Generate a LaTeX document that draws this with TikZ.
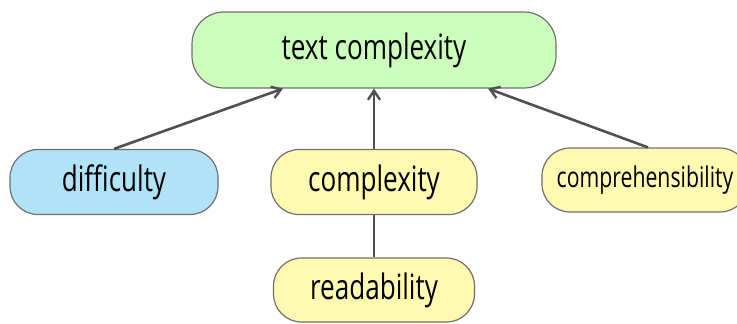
\documentclass[tikz,border=0pt]{standalone}
\usepackage{fontspec}
\setmainfont{Open Sans}
\usepackage{graphicx}
\usepackage{tikz}
\usetikzlibrary{arrows.meta,positioning}
\definecolor{topgreen}{RGB}{204,255,187}
\definecolor{skyblue}{RGB}{176,226,248}
\definecolor{paleyellow}{RGB}{255,250,176}
\definecolor{edgegray}{RGB}{112,112,112}
\definecolor{linkgray}{RGB}{80,80,80}
\newcommand{\narrowtext}[1]{\scalebox{0.745}[1]{#1}}
\tikzset{%
  term/.style={draw=edgegray,line width=1.2pt,rounded corners=28pt,align=center,inner sep=2pt},
  link/.style={linkgray,line width=2.6pt},
  arrow/.style={link,-{Straight Barb[length=9pt,width=12pt,line width=2.4pt]}}%
}

\begin{document}
\begin{tikzpicture}[x=1pt,y=-1pt,font=\fontsize{35}{40}\selectfont]
\useasboundingbox (0,0) rectangle (737,324);

% Nodes
\node[term,fill=topgreen,minimum width=364pt,minimum height=76pt,rounded corners=32pt] (textcx) at (374,50) {\narrowtext{text complexity}};
\node[term,fill=skyblue,minimum width=208pt,minimum height=65pt] (difficulty) at (114,182) {\narrowtext{difficulty}};
\node[term,fill=paleyellow,minimum width=206pt,minimum height=65pt] (complexity) at (374,182) {\narrowtext{complexity}};
\node[term,fill=paleyellow,minimum width=206pt,minimum height=64pt,font=\fontsize{28.5}{32}\selectfont] (compreh) at (645,180) {\narrowtext{comprehensibility}};
\node[term,fill=paleyellow,minimum width=201pt,minimum height=64pt] (readability) at (374,290) {\narrowtext{readability}};

% Arrows
\draw[arrow] (difficulty.north) -- ([xshift=-91pt]textcx.south);
\draw[arrow] (complexity.north) -- (textcx.south);
\draw[arrow] ([xshift=3pt]compreh.north) -- ([xshift=114pt]textcx.south);
\draw[link] (readability.north) -- (complexity.south);

\end{tikzpicture}
\end{document}
